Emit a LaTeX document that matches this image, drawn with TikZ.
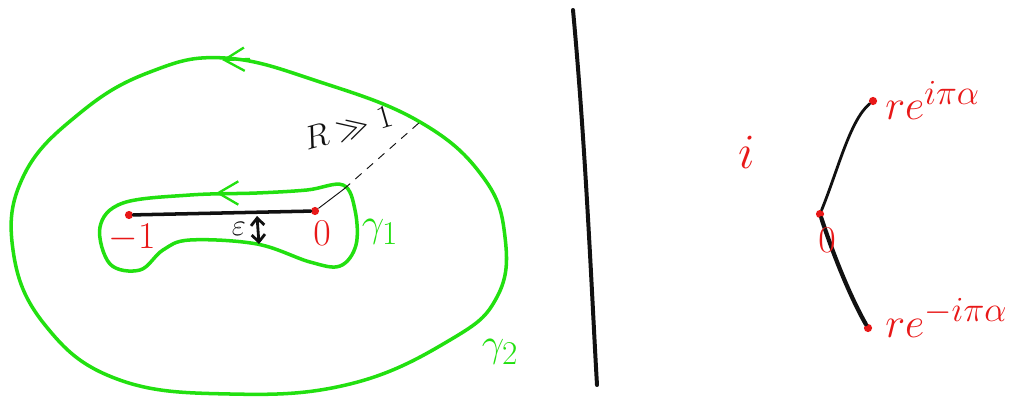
\documentclass[tikz,border=0pt]{standalone}
\usepackage{xcolor}
\usepackage{tikz}
\usetikzlibrary{arrows.meta,calc}
\usepackage{amsmath}
\definecolor{contourgreen}{HTML}{22E010}
\definecolor{pointred}{HTML}{E81818}
\definecolor{inkblack}{HTML}{111111}
\tikzset{
  contour/.style={draw=contourgreen, line width=3pt, line join=round},
  barbtip/.style={draw=contourgreen, line width=2pt, -{Straight Barb[length=6mm,width=7mm]}},
  cut/.style={draw=inkblack, line width=3pt, line cap=round},
  radius/.style={draw=inkblack, line width=0.8pt},
  dashedradius/.style={draw=inkblack, line width=0.8pt, dash pattern=on 7pt off 6pt},
  redlabel/.style={text=pointred, font=\Huge, scale=1.3},
  biglabel/.style={text=pointred, font=\Huge, scale=1.45},
  greenlabel/.style={text=contourgreen, font=\Huge, scale=1.37},
  dot/.style={circle, fill=pointred, inner sep=0pt, minimum size=7pt}
}

\begin{document}
\begin{tikzpicture}[x=0.03cm,y=-0.03cm]
  \path[use as bounding box] (0,0) rectangle (1013,398);

  % outer contour gamma_2
  \draw[contour] plot[smooth cycle, tension=0.7] coordinates {
    (225,58) (320,82) (420,122) (483,177) (505,237) (497,297)
    (450,340) (350,384) (230,394) (117,379) (45,325) (13,250)
    (24,175) (80,113) (150,72)};
  \draw[barbtip] (250,59) -- (222,60);

  % keyhole contour gamma_1
  \draw[contour] plot[smooth cycle, tension=0.6] coordinates {
    (100,227) (123,203) (190,195) (257,193) (307,190) (343,185)
    (355,210) (356,245) (340,266) (310,262) (257,244)
    (190,240) (163,250) (140,270) (110,264)};
  \draw[barbtip] (242,193) -- (216,193);

  % branch cut from -1 to 0
  \node[dot] (mone) at (129,215) {};
  \node[dot] (zero) at (315,211) {};
  \draw[cut] (mone) -- (zero);
  \node[redlabel] (monelbl) at (132,238) {$-1$};
  \node[redlabel] (zerolbl) at (322,233) {$0$};

  % epsilon gap
  \coordinate (epstop) at (257,216);
  \coordinate (epsbot) at (259,244);
  \draw[draw=inkblack, line width=2.4pt, {Straight Barb[length=2.2mm,width=4mm]}-{Straight Barb[length=2.2mm,width=4mm]}] (epstop) -- (epsbot);
  \node[text=inkblack, font=\Huge, scale=1.05] (epslbl) at (239,229) {$\varepsilon$};

  % radius to the big circle
  \coordinate (rmid) at (344,189);
  \coordinate (rend) at (420,122);
  \draw[radius] (zero) -- (rmid);
  \draw[dashedradius] (rmid) -- (rend);
  \node[rotate=16, text=inkblack, font=\Huge, scale=1.13] (rlbl) at (348,128) {$R\gg1$};

  \node[greenlabel] (gonelbl) at (380,232) {$\gamma_1$};
  \node[greenlabel] (gtwolbl) at (500,352) {$\gamma_2$};

  % separator
  \coordinate (septop) at (573,10);
  \coordinate (sepbot) at (597,385);
  \draw[cut, line width=3.4pt] (septop) .. controls (586,150) and (592,300) .. (sepbot);

  % right: rays from 0
  \node[dot] (rtop) at (873,101) {};
  \node[dot] (rorig) at (820,214) {};
  \node[dot] (rbot) at (868,328) {};
  \draw[cut, line width=2.4pt] (rorig) .. controls (838,170) and (850,120) .. (rtop);
  \draw[cut, line width=3.6pt] (rorig) .. controls (835,260) and (852,300) .. (rbot);
  \node[redlabel] (rorigl) at (827,240) {$0$};
  \node[biglabel, anchor=base west, inner sep=0pt] (rtopl) at (885,120) {$re^{i\pi\alpha}$};
  \node[biglabel, anchor=base west, inner sep=0pt] (rbotl) at (885,337) {$re^{-i\pi\alpha}$};
  \node[redlabel, scale=1.3] (ilbl) at (747,152) {$i$};
\end{tikzpicture}
\end{document}
